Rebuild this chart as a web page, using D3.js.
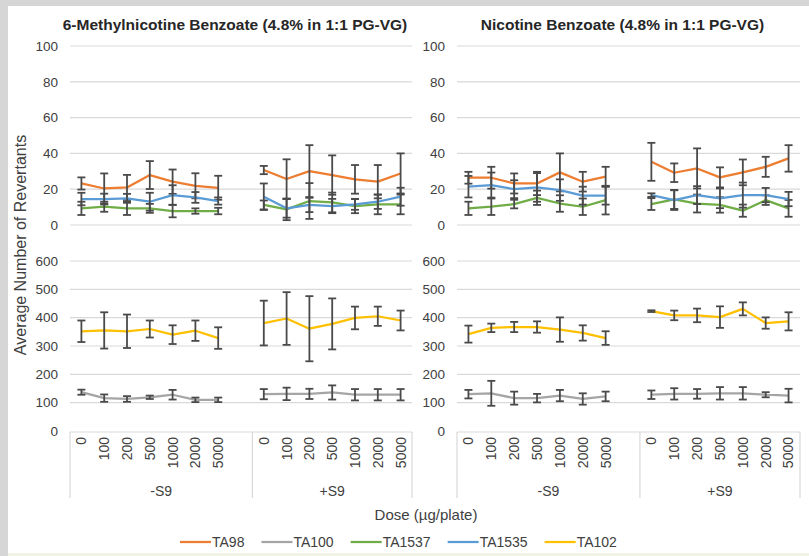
<!DOCTYPE html>
<html>
<head>
<meta charset="utf-8">
<script src="https://cdn.jsdelivr.net/npm/d3@7"></script>
<style>
body { margin: 0; background: #d9d9d9; }
svg { display: block; font-family: "Liberation Sans", Arial, sans-serif; }
</style>
</head>
<body>
<svg id="chart" width="809" height="556"></svg>
<script>
// categories
const doses = ["0", "100", "200", "500", "1000", "2000", "5000"];
const groups = ["-S9", "+S9"];
const strains = ["TA98", "TA100", "TA1537", "TA1535", "TA102"];
const strainColors = ["#ED7D31", "#A5A5A5", "#70AD47", "#5B9BD5", "#FFC000"];
const panelTitles = ["6-Methylnicotine Benzoate (4.8% in 1:1 PG-VG)", "Nicotine Benzoate (4.8% in 1:1 PG-VG)"];
const topTicks = [0, 20, 40, 60, 80, 100];
const bottomTicks = [0, 100, 200, 300, 400, 500, 600];

// 6-methylnicotine benzoate, 7 values -S9 then 7 values +S9
const mnbTA98 = [23.2, 20.4, 21, 27.9, 24.2, 21.9, 20.8, 30.7, 25.7, 30.1, 27.9, 25.5, 24.2, 28.8];
const mnbTA98Err = [3.4, 8.4, 7, 7.8, 6.8, 7, 6.7, 2.3, 11, 14.5, 11, 8, 9.3, 11.2];
const mnbTA100 = [137, 116, 113, 119, 128, 110, 110, 130, 131, 131, 136, 128, 128, 128];
const mnbTA100Err = [9, 13, 10, 6, 17, 8, 8, 18, 22, 18, 25, 20, 20, 20];
const mnbTA1537 = [9.3, 10.2, 9.3, 9.3, 7.8, 7.8, 7.8, 11.2, 8.7, 13.4, 12.6, 10.6, 11.5, 11.5];
const mnbTA1537Err = [3.7, 2.8, 3.7, 2.5, 3.5, 1.5, 1.8, 2.5, 6, 10, 5.5, 4, 5.5, 5.5];
const mnbTA1535 = [14.5, 14.5, 14.9, 13, 16.7, 15.4, 13.4, 15.8, 9.3, 11.2, 10.6, 11.5, 13, 15.8];
const mnbTA1535Err = [3.5, 3, 2.5, 5, 5.5, 3, 2, 7.4, 5.2, 4, 4, 3, 4, 5];
const mnbTA102 = [352, 355, 352, 360, 340, 354, 328, 381, 397, 361, 378, 399, 405, 390];
const mnbTA102Err = [38, 64, 59, 30, 33, 36, 38, 79, 93, 115, 90, 40, 34, 35];

// nicotine benzoate
const nbTA98 = [26.4, 26.4, 23.2, 23.2, 29.4, 24.2, 27, 35.3, 29.2, 31.6, 26.6, 29.4, 32.5, 37.2];
const nbTA98Err = [3.3, 6.1, 5.6, 6.5, 10.6, 5.5, 5.5, 10.6, 5.2, 11.2, 5.6, 7.2, 5.6, 7.4];
const nbTA100 = [130, 133, 116, 116, 125, 113, 122, 128, 131, 131, 133, 133, 128, 125];
const nbTA100Err = [15, 44, 23, 15, 20, 20, 17, 15, 20, 17, 22, 22, 9, 24];
const nbTA1537 = [9.3, 10.2, 11.7, 15.2, 12, 10.2, 13.9, 11.7, 14.3, 12, 11.2, 8, 13.9, 9.3];
const nbTA1537Err = [3.7, 4.6, 2.4, 4, 4.6, 4.6, 8, 3.3, 5.3, 5, 4.3, 3.4, 2.7, 4.7];
const nbTA1535 = [21.4, 22.3, 20, 21, 19.5, 16.4, 16.4, 16.7, 13.9, 16.7, 14.9, 16.7, 16.7, 14.5];
const nbTA1535Err = [6, 7, 5, 8, 6, 5, 5, 1, 5.5, 5, 5.5, 7, 4, 4];
const nbTA102 = [342, 364, 367, 367, 358, 346, 328, 423, 408, 408, 402, 431, 381, 387];
const nbTA102Err = [30, 15, 18, 20, 43, 27, 24, 3, 17, 24, 38, 23, 20, 32];

const svg = d3.select("#chart");

// page background + white chart area
svg.append("rect").attr("width", 809).attr("height", 556).attr("fill", "#d6d6d6");
svg.append("rect").attr("x", 8).attr("y", 6).attr("width", 801).attr("height", 547).attr("fill", "#fff");
svg.append("rect").attr("x", 8).attr("y", 553).attr("width", 801).attr("height", 3).attr("fill", "#f1f4e4");

// category keys, Excel leaves an empty slot after the -S9 group
const keys = [];
groups.forEach(function(g, gi) {
    doses.forEach(function(d) { keys.push(g + "|" + d); });
    if (gi === 0) keys.push(g + "|blank");
});

const panels = [
    { title: panelTitles[0], x0: 70, x1: 412,
      top: [[0, mnbTA98, mnbTA98Err], [2, mnbTA1537, mnbTA1537Err], [3, mnbTA1535, mnbTA1535Err]],
      bottom: [[1, mnbTA100, mnbTA100Err], [4, mnbTA102, mnbTA102Err]] },
    { title: panelTitles[1], x0: 457, x1: 800,
      top: [[0, nbTA98, nbTA98Err], [2, nbTA1537, nbTA1537Err], [3, nbTA1535, nbTA1535Err]],
      bottom: [[1, nbTA100, nbTA100Err], [4, nbTA102, nbTA102Err]] }
];

let yTop = d3.scaleLinear().domain([0, 100]).range([225, 46]);
let yBottom = d3.scaleLinear().domain([0, 600]).range([431, 261]);

panels.forEach(function(p) {
    let x = d3.scaleBand().domain(keys).range([p.x0, p.x1]);
    let bw = x.bandwidth();
    let cx = function(i) { return x(groups[Math.floor(i / 7)] + "|" + doses[i % 7]) + bw / 2; };

    // title
    svg.append("text")
        .attr("x", (p.x0 + p.x1) / 2 - 6)
        .attr("y", 30)
        .attr("text-anchor", "middle")
        .style("font-size", "15.5px")
        .style("font-weight", "bold")
        .attr("fill", "#262626")
        .text(p.title);

    [[yTop, topTicks, p.top], [yBottom, bottomTicks, p.bottom]].forEach(function(part) {
        let y = part[0];
        let ticks = part[1];

        // gridlines
        svg.append("g").selectAll("line")
            .data(ticks.filter(function(t) { return y === yTop || t > 0; }))
            .enter().append("line")
            .attr("x1", p.x0).attr("x2", p.x1)
            .attr("y1", function(d) { return y(d); })
            .attr("y2", function(d) { return y(d); })
            .attr("stroke", "#d9d9d9")
            .attr("stroke-width", 1.2);

        // y axis labels
        let ax = svg.append("g")
            .attr("transform", "translate(" + (p.x0 - 12) + ",0)")
            .call(d3.axisLeft(y).tickValues(ticks).tickSize(0).tickPadding(0));
        ax.select(".domain").remove();
        ax.selectAll("text")
            .style("font-size", "13.5px")
            .style("font-family", "'Liberation Sans', Arial, sans-serif")
            .attr("fill", "#404040");

        // lines per group
        let line = d3.line()
            .x(function(d) { return cx(d.i); })
            .y(function(d) { return y(d.v); });

        part[2].forEach(function(s) {
            let color = strainColors[s[0]];
            let pts = s[1].map(function(v, i) { return { i: i, v: v, e: s[2][i] }; });
            [pts.slice(0, 7), pts.slice(7)].forEach(function(seg) {
                svg.append("path")
                    .datum(seg)
                    .attr("d", line)
                    .attr("fill", "none")
                    .attr("stroke", color)
                    .attr("stroke-width", 2.25)
                    .attr("stroke-linejoin", "round");
            });

            let eb = svg.append("g").selectAll("g").data(pts).enter().append("g")
                .attr("stroke", "#4a4a4a")
                .attr("stroke-width", 1.8);
            eb.append("line")
                .attr("x1", function(d) { return cx(d.i); })
                .attr("x2", function(d) { return cx(d.i); })
                .attr("y1", function(d) { return y(d.v - d.e); })
                .attr("y2", function(d) { return y(d.v + d.e); });
            eb.append("line")
                .attr("x1", function(d) { return cx(d.i) - 4; })
                .attr("x2", function(d) { return cx(d.i) + 4; })
                .attr("y1", function(d) { return y(d.v + d.e); })
                .attr("y2", function(d) { return y(d.v + d.e); });
            eb.append("line")
                .attr("x1", function(d) { return cx(d.i) - 4; })
                .attr("x2", function(d) { return cx(d.i) + 4; })
                .attr("y1", function(d) { return y(d.v - d.e); })
                .attr("y2", function(d) { return y(d.v - d.e); });
        });
    });

    // category axis: dose labels rotated
    let xa = svg.append("g")
        .attr("transform", "translate(0,432)")
        .call(d3.axisBottom(x).tickSize(0)
            .tickFormat(function(k) { return k.split("|")[1] === "blank" ? "" : k.split("|")[1]; }));
    xa.select(".domain").remove();
    xa.selectAll("text")
        .attr("transform", "rotate(-90)")
        .attr("x", -5)
        .attr("y", 0)
        .attr("dy", "0.35em")
        .style("text-anchor", "end")
        .style("font-size", "14px")
        .style("font-family", "'Liberation Sans', Arial, sans-serif")
        .attr("fill", "#404040");

    // multi level box
    let sep = x(groups[1] + "|" + doses[0]);
    svg.append("line").attr("x1", p.x0).attr("x2", p.x1).attr("y1", 432).attr("y2", 432)
        .attr("stroke", "#d9d9d9").attr("stroke-width", 1.2);
    [p.x0, sep, p.x1].forEach(function(v) {
        svg.append("line").attr("x1", v).attr("x2", v).attr("y1", 432).attr("y2", 498)
            .attr("stroke", "#d9d9d9").attr("stroke-width", 1.2);
    });
    svg.selectAll(null).data(groups).enter().append("text")
        .attr("x", function(g, gi) { return gi === 0 ? (p.x0 + sep) / 2 : (sep + p.x1) / 2; })
        .attr("y", 496)
        .attr("text-anchor", "middle")
        .style("font-size", "14px")
        .attr("fill", "#404040")
        .text(function(g) { return g; });
});

// axis titles
svg.append("text")
    .attr("transform", "translate(20,245) rotate(-90)")
    .attr("text-anchor", "middle")
    .attr("dy", "0.35em")
    .style("font-size", "16px")
    .attr("fill", "#404040")
    .text("Average Number of Revertants");

svg.append("text")
    .attr("x", 426)
    .attr("y", 520)
    .attr("text-anchor", "middle")
    .style("font-size", "15px")
    .attr("fill", "#404040")
    .text("Dose (µg/plate)");

// legend
let legend = svg.append("g").attr("transform", "translate(0,542)");
let lx = 180;
strains.forEach(function(s, i) {
    legend.append("line")
        .attr("x1", lx).attr("x2", lx + 31)
        .attr("y1", 0).attr("y2", 0)
        .attr("stroke", strainColors[i])
        .attr("stroke-width", 2.25);
    let t = legend.append("text")
        .attr("x", lx + 32)
        .attr("y", 0)
        .attr("dy", "0.35em")
        .style("font-size", "14px")
        .attr("fill", "#404040")
        .text(s);
    lx = lx + 32 + t.node().getComputedTextLength() + 17;
});
</script>
</body>
</html>
